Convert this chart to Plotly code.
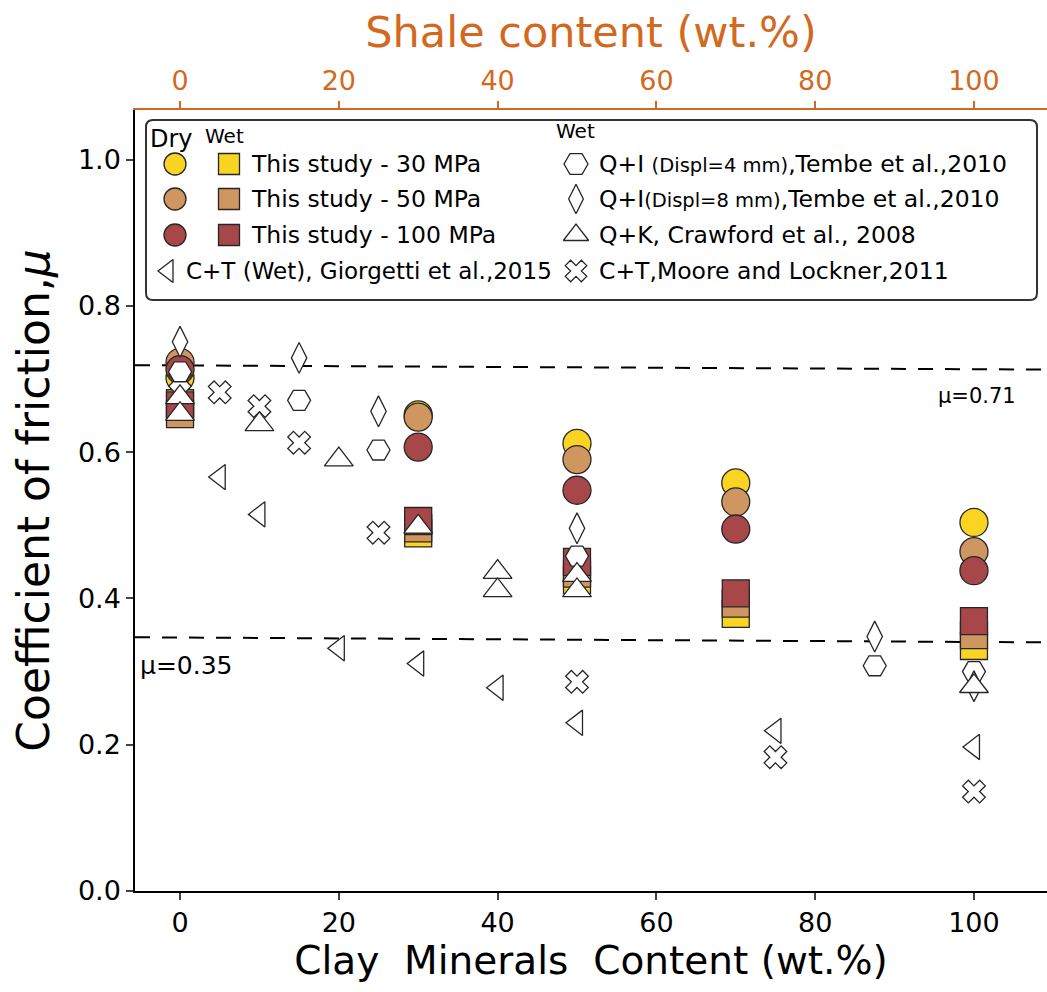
import plotly.graph_objects as go

# ---------------- data ----------------
clay_this = [0, 30, 50, 70, 100]
dry_30 = [0.702, 0.651, 0.612, 0.558, 0.504]
dry_50 = [0.723, 0.648, 0.590, 0.532, 0.464]
dry_100 = [0.713, 0.607, 0.548, 0.495, 0.438]
wet_30 = [0.667, 0.489, 0.425, 0.379, 0.335]
wet_50 = [0.652, 0.496, 0.434, 0.393, 0.350]
wet_100 = [0.664, 0.506, 0.450, 0.407, 0.369]

giorgetti_x = [5, 10, 20, 30, 40, 50, 75, 100]
giorgetti_y = [0.566, 0.515, 0.332, 0.311, 0.278, 0.230, 0.219, 0.197]

moore_x = [0, 5, 10, 15, 25, 50, 75, 100]
moore_y = [0.698, 0.682, 0.663, 0.613, 0.490, 0.286, 0.183, 0.136]

tembe4_x = [0, 15, 25, 50, 87.5, 100]
tembe4_y = [0.710, 0.671, 0.603, 0.458, 0.308, 0.300]

tembe8_x = [0, 15, 25, 50, 87.5, 100]
tembe8_y = [0.751, 0.729, 0.656, 0.496, 0.348, 0.280]

crawford_x = [0, 0, 10, 20, 30, 40, 40, 50, 50, 100]
crawford_y = [0.675, 0.652, 0.638, 0.590, 0.498, 0.436, 0.411, 0.432, 0.411, 0.280]

ref_lines = [(0.719, 0.713, "μ=0.71"), (0.347, 0.340, "μ=0.35")]

x_ticks = [0, 20, 40, 60, 80, 100]
y_ticks = [0.0, 0.2, 0.4, 0.6, 0.8, 1.0]

# ---------------- style ----------------
YEL = "#F9D423"
TAN = "#D09660"
RED = "#A8474A"
EDGE = "#262626"
ORANGE = "#D2691E"
FONT = "DejaVu Sans"
XR = [-5.67, 109.2]
YR = [0.0, 1.068]
TICK_SIZE = 27

fig = go.Figure()


def add(x, y, symbol, size, color, xa="x", ya="y"):
    fig.add_trace(go.Scatter(
        x=x, y=y, mode="markers", xaxis=xa, yaxis=ya, showlegend=False,
        hoverinfo="skip" if xa == "x3" else None,
        marker=dict(symbol=symbol, size=size, color=color,
                    line=dict(color=EDGE, width=1.3))))


add(clay_this, dry_30, "circle", 28, YEL)
add(clay_this, dry_50, "circle", 28, TAN)
add(clay_this, dry_100, "circle", 28, RED)
add(clay_this, wet_30, "square", 27, YEL)
add(clay_this, wet_50, "square", 27, TAN)
add(clay_this, wet_100, "square", 27, RED)
add(giorgetti_x, giorgetti_y, "triangle-left", 22, "white")
add(moore_x, moore_y, "x", 20, "white")
add(tembe4_x, tembe4_y, "hexagon2", 23, "white")
add(tembe8_x, tembe8_y, "diamond-tall", 22, "white")
add(crawford_x, crawford_y, "triangle-up", 25, "white")

# ---------------- legend (drawn in pixel-coordinate overlay axis) ----------------
rows = [164, 199, 235, 271]
add([175], [rows[0]], "circle", 22, YEL, "x3", "y3")
add([175], [rows[1]], "circle", 22, TAN, "x3", "y3")
add([175], [rows[2]], "circle", 22, RED, "x3", "y3")
add([229], [rows[0]], "square", 21, YEL, "x3", "y3")
add([229], [rows[1]], "square", 21, TAN, "x3", "y3")
add([229], [rows[2]], "square", 21, RED, "x3", "y3")
add([168], [rows[3]], "triangle-left", 20, "white", "x3", "y3")
add([576], [rows[0]], "hexagon2", 24, "white", "x3", "y3")
add([576], [rows[1]], "diamond-tall", 21, "white", "x3", "y3")
add([576], [rows[2]], "triangle-up", 22, "white", "x3", "y3")
add([576], [rows[3]], "x", 19, "white", "x3", "y3")

ann = []


def txt(x, y, s, size, color="black", xanchor="left"):
    ann.append(dict(x=x, y=y, xref="x3", yref="y3", text=s, showarrow=False,
                    xanchor=xanchor, yanchor="middle",
                    font=dict(family=FONT, size=size, color=color)))


txt(148, 139, "Dry", 24)
txt(203, 136, "Wet", 20)
txt(554, 131, "Wet", 20)
txt(249, rows[0], "This study - 30 MPa", 23.5)
txt(249, rows[1], "This study - 50 MPa", 23.5)
txt(249, rows[2], "This study - 100 MPa", 23.5)
txt(184, rows[3], "C+T (Wet), Giorgetti et al.,2015", 23)
sm = '<span style="font-size:19.5px">'
txt(597, rows[0], "Q+I " + sm + "(Displ=4 mm)</span>,Tembe et al.,2010", 23.5)
txt(597, rows[1], "Q+I" + sm + "(Displ=8 mm)</span>,Tembe et al.,2010", 23.5)
txt(597, rows[2], "Q+K, Crawford et al., 2008", 23.5)
txt(597, rows[3], "C+T,Moore and Lockner,2011", 23.5)
txt(977, 396, ref_lines[0][2], 21, xanchor="center")
txt(186, 665, ref_lines[1][2], 25, xanchor="center")

L, T, R, B, r = 146, 120, 1037, 300, 7
box = (f"M{L+r},{T} L{R-r},{T} Q{R},{T} {R},{T+r} L{R},{B-r} Q{R},{B} {R-r},{B} "
       f"L{L+r},{B} Q{L},{B} {L},{B-r} L{L},{T+r} Q{L},{T} {L+r},{T} Z")
shapes = [dict(type="path", path=box, xref="x3", yref="y3", layer="below",
               line=dict(color="#333333", width=2), fillcolor="white")]
for y0, y1, _ in ref_lines:
    shapes.append(dict(type="line", xref="x", yref="y", x0=XR[0], x1=XR[1],
                       y0=y0, y1=y1, layer="below",
                       line=dict(color="black", width=2, dash="15px,12px")))

fig.update_layout(
    width=1047, height=992,
    margin=dict(l=135, r=0, t=110, b=101),
    paper_bgcolor="white", plot_bgcolor="white",
    font=dict(family=FONT, size=TICK_SIZE, color="black"),
    showlegend=False,
    shapes=shapes, annotations=ann,
    xaxis=dict(range=XR, tickvals=x_ticks, ticks="outside", ticklen=7, tickwidth=1.5,
               showgrid=False, zeroline=False, showline=True, linecolor="black", linewidth=1.5,
               tickfont=dict(size=TICK_SIZE),
               title=dict(text="Clay&nbsp; Minerals&nbsp; Content (wt.%)",
                          font=dict(size=39), standoff=8)),
    xaxis2=dict(range=XR, overlaying="x", side="top", anchor="y", tickvals=x_ticks,
                ticks="outside", ticklen=7, tickwidth=1.5, tickcolor=ORANGE,
                showgrid=False, zeroline=False, showline=True, linecolor=ORANGE, linewidth=1.5,
                tickfont=dict(size=TICK_SIZE, color=ORANGE),
                title=dict(text="Shale content (wt.%)", font=dict(size=43, color=ORANGE),
                           standoff=4)),
    yaxis=dict(range=YR, tickvals=y_ticks, tickformat=".1f", ticks="outside", ticklen=7,
               tickwidth=1.5, showgrid=False, zeroline=False, showline=True,
               linecolor="black", linewidth=1.5, tickfont=dict(size=TICK_SIZE),
               title=dict(text="Coefficient of friction,<i>μ</i>", font=dict(size=44),
                          standoff=14)),
    xaxis3=dict(range=[135, 1047], overlaying="x", anchor="y3", visible=False),
    yaxis3=dict(range=[891, 110], overlaying="y", anchor="x3", visible=False),
)

# dummy trace to attach the top axis
fig.add_trace(go.Scatter(x=[None], y=[None], xaxis="x2", yaxis="y", showlegend=False))

fig.write_html("out.html")
